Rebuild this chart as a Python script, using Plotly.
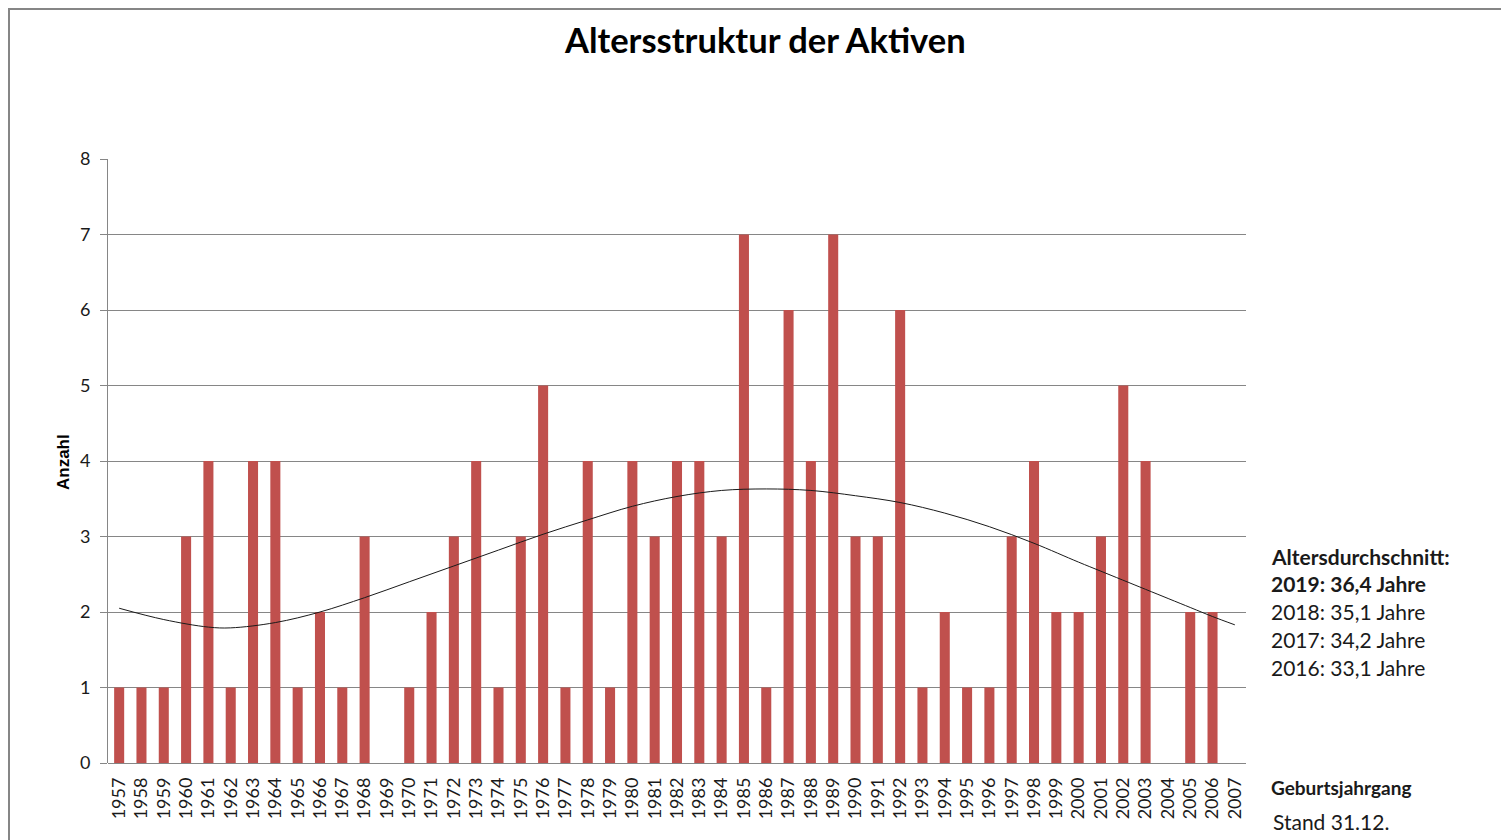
import plotly.graph_objects as go

years = [str(y) for y in range(1957, 2008)]
counts = [1, 1, 1, 3, 4, 1, 4, 4, 1, 2, 1, 3, 0, 1, 2, 3, 4, 1, 3, 5,
          1, 4, 1, 4, 3, 4, 4, 3, 7, 1, 6, 4, 7, 3, 3, 6, 1, 2, 1, 1,
          3, 4, 2, 2, 3, 5, 4, 0, 2, 2, 0]

trend_years = ["1957", "1959", "1961", "1962", "1964", "1966", "1968", "1970",
               "1972", "1974", "1976", "1978", "1980", "1982", "1984", "1986",
               "1988", "1990", "1992", "1994", "1996", "1998", "2000", "2001",
               "2003", "2005", "2006", "2007"]
trend_vals = [2.05, 1.90, 1.80, 1.79, 1.86, 2.00, 2.19, 2.40,
              2.61, 2.82, 3.03, 3.22, 3.40, 3.53, 3.61, 3.63,
              3.61, 3.54, 3.45, 3.31, 3.13, 2.91, 2.66, 2.54,
              2.30, 2.06, 1.94, 1.83]

y_ticks = [0, 1, 2, 3, 4, 5, 6, 7, 8]

title_text = "Altersstruktur der Aktiven"
y_title = "Anzahl"
side_lines = [("Altersdurchschnitt:", True), ("2019: 36,4 Jahre", True),
              ("2018: 35,1 Jahre", False), ("2017: 34,2 Jahre", False),
              ("2016: 33,1 Jahre", False)]
x_label = "Geburtsjahrgang"
stand_label = "Stand 31.12."

FONT = "Lato"
OFF = 8  # page body margin
W, H = 1509 - OFF, 840 - OFF
# plot area in page pixels
L, R, T, B = 108, 1246, 159, 763
PW, PH = R - L, B - T


def px(x):
    return (x - L) / PW


def py(y):
    return (B - y) / PH


fig = go.Figure()
fig.add_trace(go.Bar(x=years, y=counts, marker=dict(color="#C0504D", line=dict(width=0)),
                     showlegend=False))
fig.add_trace(go.Scatter(x=trend_years, y=trend_vals, mode="lines",
                         line=dict(color="#1a1a1a", width=1, shape="spline"),
                         showlegend=False))

annotations = [
    dict(text="<b>%s</b>" % title_text, xref="paper", yref="paper", x=px(765), y=py(39),
         xanchor="center", yanchor="middle", showarrow=False,
         font=dict(family=FONT, size=34.5, color="#000000")),
    dict(text="<b>%s</b>" % y_title, xref="paper", yref="paper", x=px(63), y=py(462),
         xanchor="center", yanchor="middle", showarrow=False, textangle=-90,
         font=dict(family="Liberation Sans", size=17, color="#000000")),
]
for i, (txt, bold) in enumerate(side_lines):
    yy = [556, 583, 611, 639, 667][i]
    annotations.append(dict(text=("<b>%s</b>" % txt) if bold else txt, xref="paper", yref="paper",
                            x=px(1269), y=py(yy), xanchor="left", yanchor="middle",
                            showarrow=False, font=dict(family=FONT, size=21, color="#1a1a1a")))
annotations.append(dict(text="<b>%s</b>" % x_label, xref="paper", yref="paper",
                        x=px(1269), y=py(787), xanchor="left", yanchor="middle",
                        showarrow=False, font=dict(family=FONT, size=19, color="#1a1a1a")))
annotations.append(dict(text=stand_label, xref="paper", yref="paper",
                        x=px(1271), y=py(822), xanchor="left", yanchor="middle",
                        showarrow=False, font=dict(family=FONT, size=21, color="#1a1a1a")))

shapes = [
    dict(type="line", xref="paper", yref="paper", x0=px(OFF), x1=px(1515), y0=py(OFF + 1), y1=py(OFF + 1),
         line=dict(color="#868686", width=2)),
    dict(type="line", xref="paper", yref="paper", x0=px(OFF + 1), x1=px(OFF + 1), y0=py(OFF), y1=py(850),
         line=dict(color="#868686", width=2)),
]

fig.update_layout(
    width=W, height=H,
    margin=dict(l=L - OFF, r=W - (R - OFF), t=T - OFF, b=H - (B - OFF), pad=0),
    paper_bgcolor="white", plot_bgcolor="white",
    bargap=0.55,
    font=dict(family=FONT, color="#1a1a1a"),
    annotations=annotations,
    shapes=shapes,
    xaxis=dict(type="category", categoryorder="array", categoryarray=years,
               tickangle=-90, tickfont=dict(family=FONT, size=18, color="#1a1a1a"),
               showgrid=False, showline=False, ticks="", ticklabelstandoff=10,
               zeroline=False, fixedrange=True),
    yaxis=dict(range=[0, 8], tickvals=y_ticks, showgrid=True, gridcolor="#868686",
               gridwidth=1, showline=True, linecolor="#868686", linewidth=1,
               zeroline=True, zerolinecolor="#868686", zerolinewidth=1,
               ticks="outside", ticklen=7, tickcolor="#868686", tickwidth=1,
               ticklabelstandoff=6,
               tickfont=dict(family=FONT, size=18, color="#1a1a1a"), fixedrange=True),
)

fig.write_html("out.html", config={"displayModeBar": False})
